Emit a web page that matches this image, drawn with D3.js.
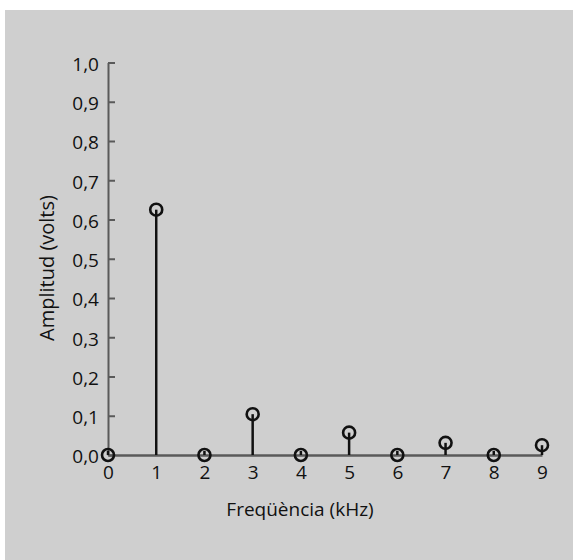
<!DOCTYPE html>
<meta charset="utf-8">
<title>Amplitud vs freqüència</title>
<script src="https://d3js.org/d3.v7.min.js"></script>
<style>
  body { margin: 0; background: #fff; }
  text { font-family: "Open Sans", "Noto Sans", sans-serif; fill: #111; }
</style>
<div id="chart"></div>
<script>
// spectrum data: harmonic frequency (kHz) and amplitude (volts)
var freqs = [0, 1, 2, 3, 4, 5, 6, 7, 8, 9];
var amps = [0, 0.625, 0, 0.104, 0, 0.057, 0, 0.031, 0, 0.025];
var yTicks = [0, 0.1, 0.2, 0.3, 0.4, 0.5, 0.6, 0.7, 0.8, 0.9, 1.0];

var W = 573, H = 560;
var x0 = 108, x1 = 542, yTop = 62.5, yBase = 455;

var svg = d3.select("#chart").append("svg")
  .attr("width", W)
  .attr("height", H);

// grey panel
svg.append("rect")
  .attr("x", 5).attr("y", 10)
  .attr("width", W - 5).attr("height", H - 10)
  .attr("fill", "#cfcfcf");

var x = d3.scaleLinear().domain([0, 9]).range([x0, x1]);
var y = d3.scaleLinear().domain([0, 1]).range([yBase, yTop]);

var locale = d3.formatLocale({decimal: ",", thousands: ".", grouping: [3], currency: ["", "€"]});
var fmt = locale.format(".1f");

// y axis (ticks point inward)
var yAxis = svg.append("g")
  .attr("transform", "translate(" + x0 + ",0)")
  .call(d3.axisLeft(y).tickValues(yTicks).tickFormat(fmt)
    .tickSizeInner(-7).tickSizeOuter(0).tickPadding(9));
yAxis.select(".domain").attr("stroke", "#5a5a5a").attr("stroke-width", 2);
yAxis.selectAll(".tick line").attr("stroke", "#5a5a5a").attr("stroke-width", 2);
yAxis.selectAll(".tick text")
  .attr("font-size", 19)
  .attr("dy", "0.42em")
  .style("font-family", "'Open Sans', sans-serif")
  .attr("fill", "#111");

// x axis
var xAxis = svg.append("g")
  .attr("transform", "translate(0," + yBase + ")")
  .call(d3.axisBottom(x).tickValues(freqs).tickFormat(d3.format("d"))
    .tickSize(0).tickPadding(11));
xAxis.select(".domain").attr("stroke", "#5a5a5a").attr("stroke-width", 2.5);
xAxis.selectAll(".tick text")
  .attr("font-size", 19)
  .style("font-family", "'Open Sans', sans-serif")
  .attr("fill", "#111");

var data = freqs.map(function(f, i) { return {f: f, a: amps[i]}; });

// stems
svg.selectAll(".stem")
  .data(data)
  .enter()
  .append("line")
    .attr("class", "stem")
    .attr("x1", function(d) { return x(d.f); })
    .attr("x2", function(d) { return x(d.f); })
    .attr("y1", function(d) { return d.a > 0 ? yBase : yBase - 4; })
    .attr("y2", function(d) { return d.a > 0 ? y(d.a) : yBase; })
    .attr("stroke", "#111")
    .attr("stroke-width", 2.5);

// markers
svg.selectAll(".dot")
  .data(data)
  .enter()
  .append("circle")
    .attr("class", "dot")
    .attr("cx", function(d) { return x(d.f); })
    .attr("cy", function(d) { return y(d.a); })
    .attr("r", 6)
    .attr("fill", "none")
    .attr("stroke", "#111")
    .attr("stroke-width", 2.6);

// axis titles
svg.append("text")
  .attr("transform", "translate(54,268) rotate(-90)")
  .attr("text-anchor", "middle")
  .attr("font-size", 20)
  .text("Amplitud (volts)");

svg.append("text")
  .attr("x", 300)
  .attr("y", 516)
  .attr("text-anchor", "middle")
  .attr("font-size", 19)
  .text("Freqüència (kHz)");
</script>
